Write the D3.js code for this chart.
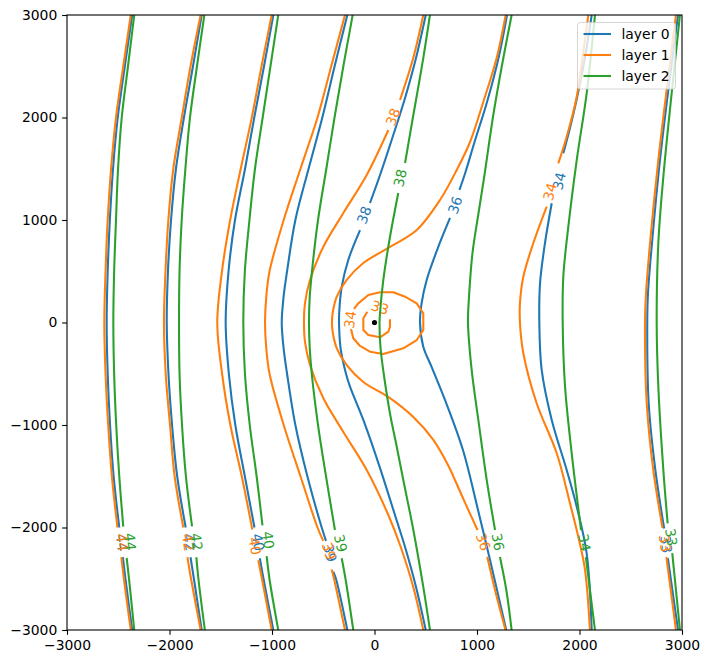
<!DOCTYPE html>
<html>
<head>
<meta charset="utf-8">
<script src="https://cdn.jsdelivr.net/npm/d3@7"></script>
<style>
  html, body { margin: 0; padding: 0; background: #fff; }
  svg { display: block; font-family: "DejaVu Sans", sans-serif; }
</style>
</head>
<body>
<svg id="chart" width="709" height="665"></svg>
<script>
// ---------------- data (model coordinates, metres) ----------------
const xTicks = [-3000, -2000, -1000, 0, 1000, 2000, 3000];
const yTicks = [-3000, -2000, -1000, 0, 1000, 2000, 3000];
const layerNames = ["layer 0", "layer 1", "layer 2"];
const wellLocation = [0, 0];

// each contour: level, polyline segments (gaps hold the inline label), label position
const layer0Contours = [
  {level: 44, label: [-2465, -2145], segs: [
    [[-2364,3000],[-2436,2500],[-2505,2000],[-2551,1500],[-2582,1000],[-2603,500],[-2613,0],[-2603,-500],[-2580,-1000],[-2545,-1500],[-2490,-2000]],
    [[-2455,-2290],[-2430,-2500],[-2364,-3000]]]},
  {level: 42, label: [-1805, -2144], segs: [
    [[-1686,3000],[-1771,2500],[-1859,2000],[-1937,1500],[-1985,1000],[-2015,500],[-2027,0],[-2010,-500],[-1975,-1000],[-1925,-1500],[-1842,-2000]],
    [[-1795,-2290],[-1762,-2500],[-1686,-3000]]]},
  {level: 40, label: [-1134, -2144], segs: [
    [[-987,3000],[-1078,2500],[-1173,2000],[-1263,1500],[-1361,1000],[-1424,500],[-1452,0],[-1421,-500],[-1358,-1000],[-1265,-1500],[-1171,-2000]],
    [[-1119,-2300],[-1083,-2500],[-987,-3000]]]},
  {level: 39, label: [-434, -2249], segs: [
    [[-265,3000],[-389,2500],[-509,2000],[-643,1500],[-772,1000],[-853,500],[-887,250],[-905,0],[-887,-250],[-853,-500],[-772,-1000],[-655,-1500],[-515,-2000],[-473,-2130]],
    [[-402,-2430],[-376,-2500],[-265,-3000]]]},
  {level: 38, label: [-102, 1049], segs: [
    [[500,3000],[405,2580],[298,2190],[215,1927],[54,1439],[-44,1166]],
    [[-141,902],[-256,610],[-320,346],[-343,122],[-346,0],[-331,-249],[-278,-500],[-239,-626],[-109,-951],[54,-1420],[215,-1927],[298,-2190],[405,-2580],[500,-3000]]]},
  {level: 36, label: [785, 1146], segs: [
    [[1293,3000],[1210,2580],[1098,2151],[976,1761],[888,1468],[829,1293]],
    [[737,1020],[622,737],[509,415],[460,190],[444,0],[476,-236],[560,-440],[707,-805],[863,-1244],[1010,-1829],[1127,-2317],[1285,-3000]]]},
  {level: 34, label: [1800, 1380], segs: [
    [[2119,3000],[2049,2561],[1971,2171],[1902,1878],[1842,1651]],
    [[1729,1163],[1663,773],[1615,382],[1608,0],[1631,-463],[1729,-951],[1875,-1439],[1973,-1797],[2070,-2252],[2119,-3000]]]},
  {level: 33, label: [2846, -2165], segs: [
    [[2961,3000],[2883,2398],[2785,1585],[2707,773],[2668,285],[2661,0],[2675,-788],[2740,-1439],[2826,-2010]],
    [[2862,-2300],[2961,-3000]]]}
];

const layer1Contours = [
  {level: 44, label: [-2460, -2144], segs: [
    [[-2378,3000],[-2451,2500],[-2522,2000],[-2570,1500],[-2603,1000],[-2624,500],[-2636,0],[-2624,-500],[-2598,-1000],[-2562,-1500],[-2508,-2000]],
    [[-2470,-2290],[-2445,-2500],[-2378,-3000]]]},
  {level: 42, label: [-1817, -2144], segs: [
    [[-1696,3000],[-1795,2500],[-1880,2000],[-1963,1500],[-2011,1000],[-2039,500],[-2054,0],[-2037,-500],[-1995,-1000],[-1950,-1500],[-1865,-2000]],
    [[-1825,-2290],[-1790,-2500],[-1696,-3000]]]},
  {level: 40, label: [-1166, -2180], segs: [
    [[-1003,3000],[-1102,2500],[-1197,2000],[-1305,1500],[-1408,1000],[-1488,500],[-1534,0],[-1487,-500],[-1406,-1000],[-1295,-1500],[-1192,-2020]],
    [[-1134,-2320],[-1098,-2500],[-1003,-3000]]]},
  {level: 39, label: [-444, -2229], segs: [
    [[-288,3000],[-422,2500],[-556,2000],[-722,1500],[-886,1000],[-1024,500],[-1056,250],[-1068,0],[-1056,-250],[-1024,-500],[-886,-1000],[-722,-1500],[-556,-2000],[-500,-2130]],
    [[-418,-2410],[-395,-2500],[-288,-3000]]]},
  {level: 38, label: [180, 2005], segs: [
    [[476,3000],[378,2580],[249,2171]],
    [[135,1878],[-76,1439],[-304,1068],[-500,737],[-629,415],[-678,190],[-688,0],[-678,-190],[-629,-415],[-500,-737],[-304,-1068],[-76,-1439],[135,-1878],[249,-2171],[378,-2580],[476,-3000]]]},
  {level: 36, label: [1061, -2139], segs: [
    [[1280,3000],[1192,2580],[1061,2151],[932,1761],[802,1488],[639,1195],[412,902],[151,737],[-109,580],[-271,415],[-369,249],[-408,93],[-415,0],[-408,-93],[-369,-249],[-271,-415],[-109,-580],[151,-737],[379,-922],[574,-1146],[727,-1410],[785,-1537],[893,-1780],[1005,-2024]],
    [[1100,-2285],[1176,-2610],[1278,-3000]]]},
  {level: 34, label: [-239, 29], segs: [
    [[-200,132],[-158,187],[-60,268],[54,295],[183,295],[298,252],[412,187],[476,90],[476,-73],[412,-171],[281,-252],[86,-307],[-44,-285],[-141,-229],[-207,-154],[-229,-63]]]},
  {level: 33, label: [54, 146], segs: [
    [[151,31],[151,-41],[135,-90],[54,-144],[-60,-122],[-109,-73],[-109,41],[-70,105]]]},
  {level: 34, label: [1712, 1276], segs: [
    [[2086,3000],[2035,2620],[1973,2203],[1875,1813],[1793,1553]],
    [[1680,1130],[1549,773],[1452,447],[1419,187],[1419,0],[1452,-300],[1582,-788],[1778,-1276],[1907,-1764],[1988,-2090],[2054,-2415],[2102,-3000]]]},
  {level: 33, label: [2834, -2154], segs: [
    [[2941,3000],[2866,2398],[2769,1585],[2688,773],[2649,285],[2639,0],[2656,-788],[2720,-1439],[2810,-2005]],
    [[2848,-2290],[2941,-3000]]]}
];

const layer2Contours = [
  {level: 44, label: [-2382, -2139], segs: [
    [[-2344,3000],[-2405,2500],[-2466,2000],[-2502,1500],[-2522,1000],[-2540,500],[-2548,0],[-2540,-500],[-2520,-1000],[-2490,-1500],[-2451,-1992]],
    [[-2418,-2297],[-2395,-2500],[-2344,-3000]]]},
  {level: 42, label: [-1734, -2139], segs: [
    [[-1660,3000],[-1732,2500],[-1800,2000],[-1845,1500],[-1881,1000],[-1902,500],[-1907,0],[-1902,-500],[-1878,-1000],[-1840,-1500],[-1780,-1990]],
    [[-1738,-2290],[-1718,-2500],[-1655,-3000]]]},
  {level: 40, label: [-1036, -2122], segs: [
    [[-939,3000],[-1015,2500],[-1091,2000],[-1166,1500],[-1220,1000],[-1265,500],[-1280,0],[-1264,-500],[-1217,-1000],[-1150,-1500],[-1093,-1980]],
    [[-1052,-2280],[-1025,-2500],[-939,-3000]]]},
  {level: 39, label: [-330, -2154], segs: [
    [[-213,3000],[-304,2500],[-390,2000],[-470,1500],[-551,1000],[-610,500],[-632,250],[-639,0],[-632,-250],[-612,-500],[-551,-1000],[-483,-1440],[-386,-2024]],
    [[-320,-2300],[-283,-2500],[-207,-3000]]]},
  {level: 38, label: [249, 1410], segs: [
    [[541,3000],[476,2580],[379,2024],[298,1556]],
    [[232,1263],[151,834],[86,415],[54,93],[49,0],[59,-249],[90,-500],[151,-886],[217,-1212],[281,-1537],[379,-2024],[476,-2580],[541,-3000]]]},
  {level: 36, label: [1205, -2141], segs: [
    [[1338,3000],[1257,2580],[1159,2024],[1073,1439],[1015,1068],[956,678],[922,249],[912,0],[948,-463],[1013,-951],[1095,-1537],[1176,-2024]],
    [[1224,-2288],[1286,-2610],[1338,-3000]]]},
  {level: 34, label: [2048, -2148], segs: [
    [[2151,3000],[2070,2236],[1973,1585],[1891,935],[1842,447],[1836,0],[1859,-626],[1924,-1276],[2015,-2025]],
    [[2062,-2290],[2151,-3000]]]},
  {level: 33, label: [2895, -2095], segs: [
    [[2980,3000],[2899,2236],[2818,1422],[2769,773],[2753,0],[2769,-626],[2818,-1439],[2860,-1960]],
    [[2905,-2250],[2980,-3000]]]}
];

const layerContours = [layer0Contours, layer1Contours, layer2Contours];
const layerColors = ["#1f77b4", "#ff7f0e", "#2ca02c"];

// ---------------- layout ----------------
const svg = d3.select("#chart");
const plot = {left: 67, top: 15, right: 682, bottom: 630};
const x = d3.scaleLinear().domain([-3000, 3000]).range([plot.left, plot.right]);
const y = d3.scaleLinear().domain([-3000, 3000]).range([plot.bottom, plot.top]);
const fontPx = 13.9;
const tick = 4.86;

svg.append("defs").append("clipPath").attr("id", "clip")
  .append("rect").attr("x", plot.left).attr("y", plot.top)
  .attr("width", plot.right - plot.left).attr("height", plot.bottom - plot.top);

const g = svg.append("g").attr("clip-path", "url(#clip)");

const smoothLine = d3.line().x(d => x(d[0])).y(d => y(d[1])).curve(d3.curveCatmullRom.alpha(0.5));
const straightLine = d3.line().x(d => x(d[0])).y(d => y(d[1]));

layerContours.forEach((contours, li) => {
  const color = layerColors[li];
  const lg = g.append("g");
  contours.forEach(c => {
    const isLoop = c.segs.length === 1;
    c.segs.forEach(seg => {
      lg.append("path")
        .attr("d", (isLoop ? straightLine : smoothLine)(seg))
        .attr("fill", "none")
        .attr("stroke", color)
        .attr("stroke-width", 2.08)
        .attr("stroke-linejoin", "round");
    });
    if (c.label) {
      let a, b;
      if (isLoop) { a = c.segs[0][c.segs[0].length - 1]; b = c.segs[0][0]; }
      else { a = c.segs[0][c.segs[0].length - 1]; b = c.segs[1][0]; }
      let ang = Math.atan2(y(b[1]) - y(a[1]), x(b[0]) - x(a[0])) * 180 / Math.PI;
      if (ang > 90) ang -= 180;
      if (ang < -90) ang += 180;
      lg.append("text")
        .attr("transform", `translate(${x(c.label[0])},${y(c.label[1])}) rotate(${ang})`)
        .attr("text-anchor", "middle")
        .attr("dy", "0.36em")
        .attr("font-size", fontPx)
        .attr("fill", color)
        .text(String(c.level));
    }
  });
});

// well marker
svg.append("circle")
  .attr("cx", x(wellLocation[0])).attr("cy", y(wellLocation[1]))
  .attr("r", 2.6).attr("fill", "black");

// axes
const fmt = d3.format("d");
const xAxis = svg.append("g").attr("transform", `translate(0,${plot.bottom})`)
  .call(d3.axisBottom(x).tickValues(xTicks).tickFormat(fmt).tickSize(tick).tickPadding(tick));
const yAxis = svg.append("g").attr("transform", `translate(${plot.left},0)`)
  .call(d3.axisLeft(y).tickValues(yTicks).tickFormat(fmt).tickSize(tick).tickPadding(tick));
[xAxis, yAxis].forEach(ax => {
  ax.select(".domain").remove();
  ax.selectAll("line").attr("stroke", "black").attr("stroke-width", 1.1);
  ax.selectAll("text").attr("font-size", fontPx).attr("fill", "black")
    .attr("font-family", "DejaVu Sans, sans-serif");
});

// frame
svg.append("rect")
  .attr("x", plot.left).attr("y", plot.top)
  .attr("width", plot.right - plot.left).attr("height", plot.bottom - plot.top)
  .attr("fill", "none").attr("stroke", "black").attr("stroke-width", 1.1);

// legend
const leg = svg.append("g");
leg.append("rect")
  .attr("x", 577.5).attr("y", 22.5).attr("width", 98).attr("height", 66.5)
  .attr("rx", 2.8).attr("ry", 2.8)
  .attr("fill", "rgba(255,255,255,0.8)").attr("stroke", "rgba(204,204,204,0.8)").attr("stroke-width", 1);
layerNames.forEach((name, i) => {
  const cy = 34 + i * 21;
  leg.append("line").attr("x1", 583.5).attr("x2", 611).attr("y1", cy).attr("y2", cy)
    .attr("stroke", layerColors[i]).attr("stroke-width", 2.08);
  leg.append("text").attr("x", 621.5).attr("y", cy).attr("dy", "0.35em")
    .attr("font-size", fontPx).attr("fill", "black").text(name);
});
</script>
</body>
</html>
